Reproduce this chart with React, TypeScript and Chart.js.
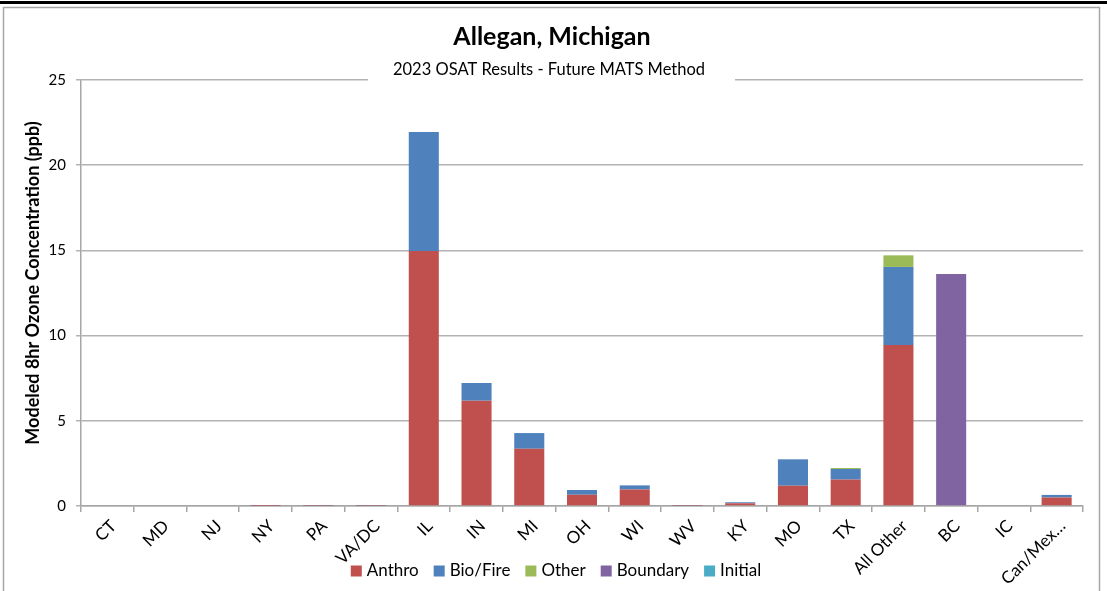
import React, { useEffect, useRef } from "react";
import { Chart, registerables } from "chart.js";

Chart.register(...registerables);

const categories = ["CT", "MD", "NJ", "NY", "PA", "VA/DC", "IL", "IN", "MI", "OH", "WI", "WV", "KY", "MO", "TX", "All Other", "BC", "IC", "Can/Mex…"];
const anthro = [0, 0, 0, 0.01, 0.02, 0.02, 14.96, 6.18, 3.36, 0.66, 0.97, 0.02, 0.16, 1.19, 1.55, 9.45, 0, 0, 0.5];
const bioFire = [0, 0, 0, 0.02, 0.02, 0.02, 6.99, 1.04, 0.92, 0.28, 0.24, 0.02, 0.06, 1.55, 0.62, 4.58, 0, 0, 0.15];
const other = [0, 0, 0, 0, 0, 0, 0, 0, 0, 0, 0, 0, 0, 0, 0.06, 0.68, 0, 0, 0];
const boundary = [0, 0, 0, 0, 0, 0, 0, 0, 0, 0, 0, 0, 0, 0, 0, 0, 13.62, 0, 0];
const initial = [0, 0, 0, 0, 0, 0, 0, 0, 0, 0, 0, 0, 0, 0, 0, 0, 0, 0, 0];
const yTicks = [0, 5, 10, 15, 20, 25];
const seriesNames = ["Anthro", "Bio/Fire", "Other", "Boundary", "Initial"];
const seriesColors = ["#C0504D", "#4F81BD", "#9BBB59", "#8064A2", "#4BACC6"];

const titleText = "Allegan, Michigan";
const subtitleText = "2023 OSAT Results - Future MATS Method";
const yTitle = "Modeled 8hr Ozone Concentration (ppb)";
const FONT = "Lato, 'Open Sans', sans-serif";

const framePlugin = {
  id: "framePlugin",
  beforeDraw(chart: any) {
    const ctx = chart.ctx;
    ctx.save();
    ctx.fillStyle = "#ffffff";
    ctx.fillRect(0, 0, chart.width, chart.height);
    ctx.fillStyle = "#000000";
    ctx.fillRect(0, 1, chart.width, 3);
    ctx.strokeStyle = "#a6a6a6";
    ctx.lineWidth = 1.5;
    ctx.beginPath();
    ctx.moveTo(3.5, chart.height + 2);
    ctx.lineTo(3.5, 7.5);
    ctx.lineTo(1099.5, 7.5);
    ctx.lineTo(1099.5, chart.height + 2);
    ctx.stroke();
    ctx.restore();
  },
  afterDraw(chart: any) {
    const ctx = chart.ctx;
    ctx.save();
    // title & subtitle (subtitle sits over the top gridline)
    ctx.fillStyle = "#ffffff";
    ctx.fillRect(368, 58, 367, 26);
    ctx.fillStyle = "#000000";
    ctx.textAlign = "center";
    ctx.textBaseline = "middle";
    ctx.font = `bold 25px ${FONT}`;
    ctx.fillText(titleText, 552, 37);
    ctx.font = `16.5px ${FONT}`;
    ctx.fillText(subtitleText, 549, 70);
    // y axis title
    ctx.save();
    ctx.translate(33, 283);
    ctx.rotate(-Math.PI / 2);
    ctx.font = `bold 18px ${FONT}`;
    ctx.fillText(yTitle, 0, 0);
    ctx.restore();
    // legend
    ctx.font = `17px ${FONT}`;
    ctx.textAlign = "left";
    const box = 11, gapText = 5, gapItem = 15;
    const items = chart.data.datasets.map((d: any) => ({ label: d.label, color: d.backgroundColor, w: ctx.measureText(d.label).width }));
    const total = items.reduce((a: number, it: any) => a + box + gapText + it.w, 0) + gapItem * (items.length - 1);
    let x = 556 - total / 2;
    const cy = 571;
    items.forEach((it: any) => {
      ctx.fillStyle = it.color;
      ctx.fillRect(x, cy - box / 2, box, box);
      ctx.fillStyle = "#000000";
      ctx.fillText(it.label, x + box + gapText, cy);
      x += box + gapText + it.w + gapItem;
    });
    ctx.restore();
  },
};

export default function App() {
  const ref = useRef<HTMLCanvasElement | null>(null);
  useEffect(() => {
    if (!ref.current) return;
    const series = [anthro, bioFire, other, boundary, initial];
    const chart = new Chart(ref.current, {
      type: "bar",
      data: {
        labels: categories,
        datasets: series.map((data, i) => ({ label: seriesNames[i], data, backgroundColor: seriesColors[i] })),
      },
      options: {
        animation: false,
        responsive: false,
        maintainAspectRatio: false,
        layout: { padding: { top: 80, right: 24, bottom: 0, left: 0 } },
        datasets: { bar: { barPercentage: 0.57, categoryPercentage: 1.0, borderWidth: 0 } },
        plugins: {
          title: { display: false },
          tooltip: { enabled: false },
          legend: { display: false },
        },
        scales: {
          x: {
            stacked: true,
            afterFit: (s: any) => { s.height = 85; },
            grid: { offset: true, drawOnChartArea: false, tickLength: 6, color: "#a6a6a6", lineWidth: 1.5 },
            border: { display: true, color: "#a6a6a6", width: 1.5 },
            ticks: {
              maxRotation: 45,
              minRotation: 45,
              autoSkip: false,
              color: "#000000",
              font: { family: FONT, size: 17 },
              padding: 4,
              labelOffset: 6,
            },
          },
          y: {
            stacked: true,
            min: 0,
            max: 25,
            afterFit: (s: any) => { s.width = 81; },
            afterBuildTicks: (s: any) => { s.ticks = yTicks.map((v) => ({ value: v })); },
            grid: { color: "#b3b3b3", lineWidth: 1.5, tickLength: 5 },
            border: { display: true, color: "#a6a6a6", width: 1.5 },
            ticks: { color: "#000000", font: { family: FONT, size: 15 }, padding: 10 },
            title: { display: false },
          },
        },
      },
      plugins: [framePlugin],
    });
    return () => chart.destroy();
  }, []);
  return (
    <div style={{ position: "absolute", left: 0, top: 0, width: 1107, height: 591 }}>
      <canvas ref={ref} width={1107} height={591} style={{ display: "block" }} />
    </div>
  );
}
